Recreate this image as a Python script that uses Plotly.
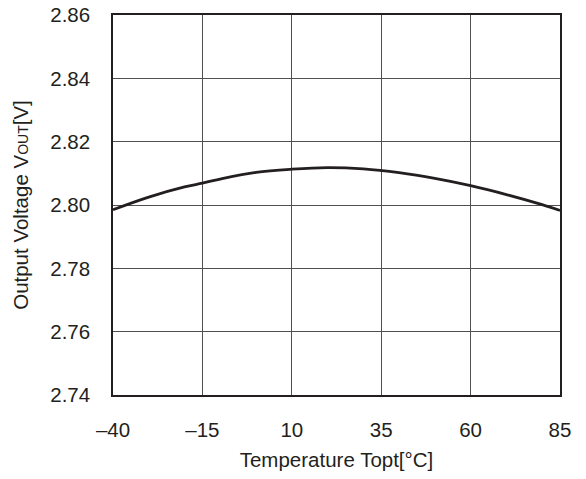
import plotly.graph_objects as go

temps = [-40, -30, -20, -15, -10, 0, 10, 20, 30, 40, 50, 60, 70, 80, 85]
vout = [2.7985, 2.8025, 2.8057, 2.8069, 2.8082, 2.8103, 2.8113, 2.8118, 2.8114, 2.8102, 2.8084, 2.8061, 2.8033, 2.8001, 2.7983]

x_ticks = [-40, -15, 10, 35, 60, 85]
x_ticktext = ["\u201340", "\u201315", "10", "35", "60", "85"]
y_ticks = [2.74, 2.76, 2.78, 2.80, 2.82, 2.84, 2.86]
y_ticktext = ["2.74", "2.76", "2.78", "2.80", "2.82", "2.84", "2.86"]

txt = "#231f20"
fs = 20.5
fig = go.Figure()
fig.add_trace(go.Scatter(x=temps, y=vout, mode="lines",
                         line=dict(color=txt, width=2.8, shape="spline"),
                         showlegend=False, hoverinfo="skip"))

fig.update_layout(
    width=586, height=479,
    margin=dict(l=112.5, r=26, t=14.5, b=83.5),
    paper_bgcolor="white", plot_bgcolor="white",
    font=dict(family="Liberation Sans, Arial, sans-serif", size=fs, color=txt),
)
fig.update_xaxes(range=[-40, 85], tickvals=x_ticks, ticktext=x_ticktext,
                 showgrid=True, gridcolor="#505050", gridwidth=1,
                 showline=True, linecolor="#231f20", linewidth=1.5, mirror=True,
                 ticks="", ticklen=0, zeroline=False, automargin=False,
                 ticklabelstandoff=16, ticklabeloverflow="allow",
                 title=dict(text="Temperature Topt[°C]", standoff=12, font=dict(size=fs)))
fig.update_yaxes(range=[2.74, 2.86], tickvals=y_ticks, ticktext=y_ticktext,
                 showgrid=True, gridcolor="#505050", gridwidth=1,
                 showline=True, linecolor="#231f20", linewidth=1.5, mirror=True,
                 ticks="", ticklen=0, zeroline=False, automargin=False,
                 ticklabelstandoff=17, ticklabeloverflow="allow",
                 title=dict(text="Output Voltage V<span style='font-size:14px'>OUT</span>[V]",
                            standoff=16, font=dict(size=fs)))

fig.write_html("out.html", config={"displayModeBar": False},
               post_script="document.body.style.margin='0';")
